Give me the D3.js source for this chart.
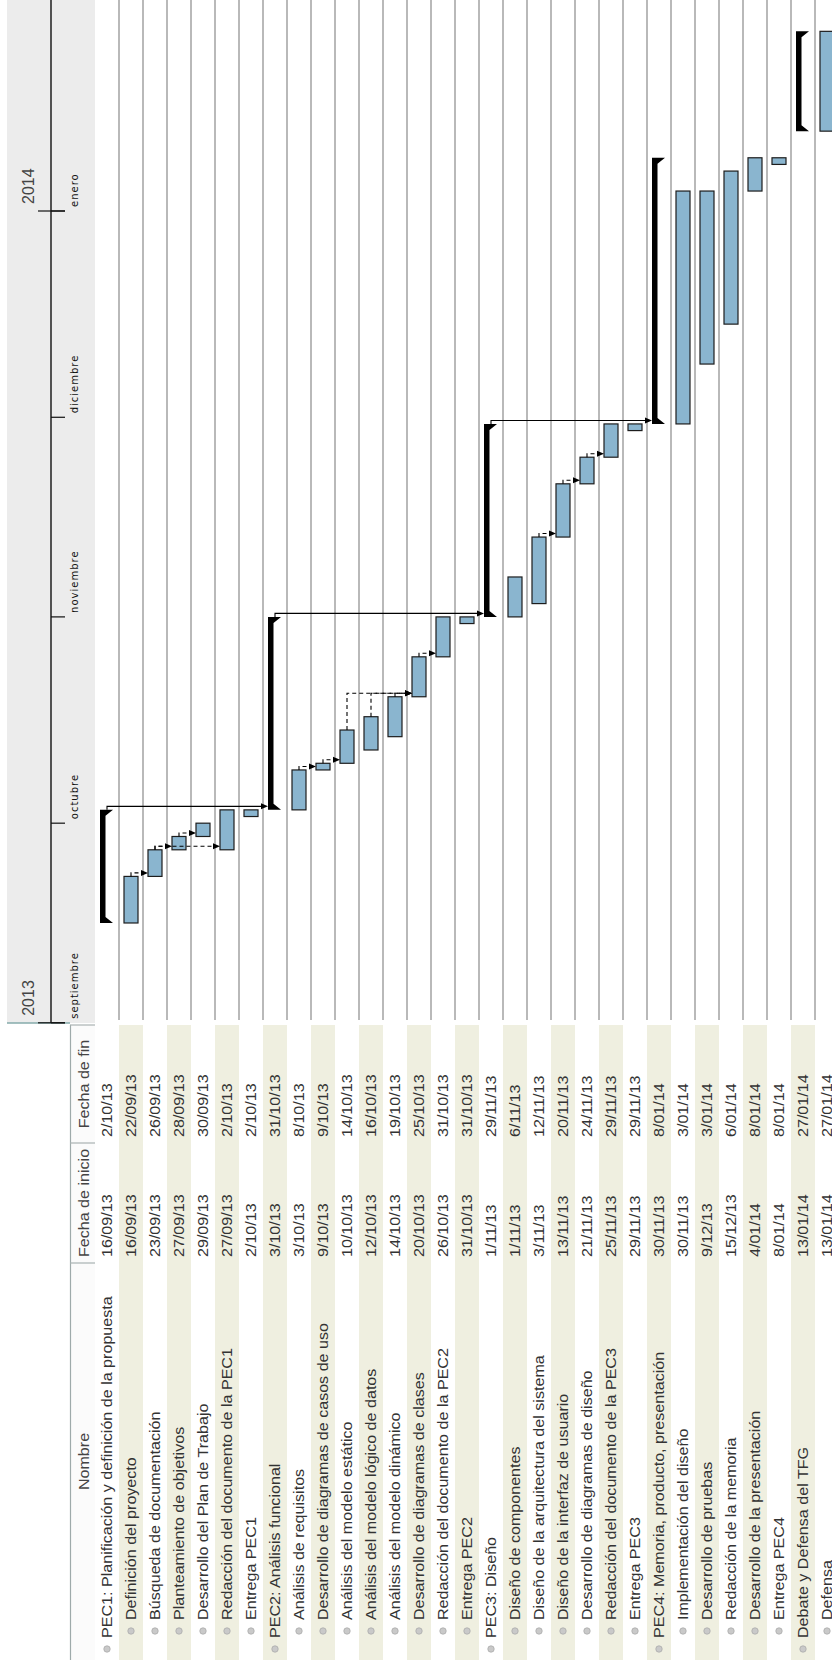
<!DOCTYPE html>
<html>
<head>
<meta charset="utf-8">
<script src="https://cdn.jsdelivr.net/npm/d3@7"></script>
<style>
  html, body { margin: 0; padding: 0; background: #ffffff; }
  svg { display: block; }
</style>
</head>
<body>
<svg id="gantt" width="832" height="1660"></svg>
<script>
// ---- Project plan data -------------------------------------------------
const taskNames = [
  "PEC1: Planificación y definición de la propuesta",
  "Definición del proyecto",
  "Búsqueda de documentación",
  "Planteamiento de objetivos",
  "Desarrollo del Plan de Trabajo",
  "Redacción del documento de la PEC1",
  "Entrega PEC1",
  "PEC2: Análisis funcional",
  "Análisis de requisitos",
  "Desarrollo de diagramas de casos de uso",
  "Análisis del modelo estático",
  "Análisis del modelo lógico de datos",
  "Análisis del modelo dinámico",
  "Desarrollo de diagramas de clases",
  "Redacción del documento de la PEC2",
  "Entrega PEC2",
  "PEC3: Diseño",
  "Diseño de componentes",
  "Diseño de la arquitectura del sistema",
  "Diseño de la interfaz de usuario",
  "Desarrollo de diagramas de diseño",
  "Redacción del documento de la PEC3",
  "Entrega PEC3",
  "PEC4: Memoria, producto, presentación",
  "Implementación del diseño",
  "Desarrollo de pruebas",
  "Redacción de la memoria",
  "Desarrollo de la presentación",
  "Entrega PEC4",
  "Debate y Defensa del TFG",
  "Defensa"
];
const taskLevels = [0,1,1,1,1,1,1, 0,1,1,1,1,1,1,1,1, 0,1,1,1,1,1,1, 0,1,1,1,1,1, 0,1];
const startLabels = [
  "16/09/13","16/09/13","23/09/13","27/09/13","29/09/13","27/09/13","2/10/13",
  "3/10/13","3/10/13","9/10/13","10/10/13","12/10/13","14/10/13","20/10/13","26/10/13","31/10/13",
  "1/11/13","1/11/13","3/11/13","13/11/13","21/11/13","25/11/13","29/11/13",
  "30/11/13","30/11/13","9/12/13","15/12/13","4/01/14","8/01/14",
  "13/01/14","13/01/14"
];
const endLabels = [
  "2/10/13","22/09/13","26/09/13","28/09/13","30/09/13","2/10/13","2/10/13",
  "31/10/13","8/10/13","9/10/13","14/10/13","16/10/13","19/10/13","25/10/13","31/10/13","31/10/13",
  "29/11/13","6/11/13","12/11/13","20/11/13","24/11/13","29/11/13","29/11/13",
  "8/01/14","3/01/14","3/01/14","6/01/14","8/01/14","8/01/14",
  "27/01/14","27/01/14"
];
// Summary rows drawn as black brackets
const summaryRows = [0, 7, 16, 23, 29];
// Dependencies: [predecessor row, successor row, dashed?]
const links = [
  [1, 2, 1], [2, 3, 1], [2, 5, 1], [3, 4, 1], [0, 7, 0],
  [8, 9, 1], [9, 10, 1], [10, 13, 1], [11, 13, 1], [12, 13, 1], [13, 14, 1],
  [7, 16, 0], [18, 19, 1], [19, 20, 1], [20, 21, 1], [16, 23, 0]
];
const monthLabels = ["septiembre", "octubre", "noviembre", "diciembre", "enero"];
const yearLabels = ["2013", "2014"];
const columnTitles = ["Nombre", "Fecha de inicio", "Fecha de fin"];

// ---- Layout (drawn in a landscape frame, then turned a quarter) --------
const W = 1660, H = 832;
const rowTop0 = 95, rowH = 24;
const tableEnd = 637;
const colEdges = [0, 397, 517, 635];
const textFont = "'Liberation Sans', Arial, sans-serif";
const textScale = 1.15;

const parseDay = s => {
  const [d, m, y] = s.split("/").map(Number);
  return new Date(Date.UTC(2000 + y, m - 1, d));
};
const nextDay = d => new Date(d.getTime() + 86400000);

const x = d3.scaleUtc()
  .domain([new Date(Date.UTC(2013, 8, 1)), new Date(Date.UTC(2014, 0, 1))])
  .range([637.2, 1449]);

const rowY = i => rowTop0 + i * rowH;

const svg = d3.select("#gantt");
const g = svg.append("g").attr("transform", `translate(0,${W}) rotate(-90)`);

// ---- Table ------------------------------------------------------------
g.selectAll("rect.stripe")
  .data(d3.range(taskNames.length).filter(i => i % 2 === 1))
  .join("rect")
  .attr("class", "stripe")
  .attr("x", 0).attr("width", colEdges[3])
  .attr("y", i => rowY(i)).attr("height", rowH)
  .attr("fill", "#efefe0");

// header cells
const head = g.append("g");
head.append("rect")
  .attr("x", 0).attr("y", 70).attr("width", colEdges[3]).attr("height", 25)
  .attr("fill", "#fbfbfb");
head.append("line")
  .attr("x1", 0).attr("x2", colEdges[3]).attr("y1", 70.5).attr("y2", 70.5)
  .attr("stroke", "#9eaaaa").attr("stroke-width", 1.2);
head.selectAll("line.sep")
  .data(colEdges.slice(1))
  .join("line")
  .attr("class", "sep")
  .attr("x1", d => d).attr("x2", d => d)
  .attr("y1", 70).attr("y2", 95)
  .attr("stroke", "#a9b3b3").attr("stroke-width", 1.2);
head.selectAll("text")
  .data(columnTitles)
  .join("text")
  .attr("transform", (d, i) => `translate(${(colEdges[i] + colEdges[i + 1]) / 2},89) scale(${textScale},1)`)
  .attr("text-anchor", "middle")
  .attr("font-family", textFont).attr("font-size", 14)
  .attr("fill", "#444")
  .text(d => d);

// bullets
g.selectAll("circle.bullet")
  .data(taskNames)
  .join("circle")
  .attr("class", "bullet")
  .attr("cx", (d, i) => taskLevels[i] === 0 ? 11 : 29)
  .attr("cy", (d, i) => rowY(i) + rowH / 2)
  .attr("r", 3.2)
  .attr("fill", "#c9c9c9").attr("stroke", "#ababab").attr("stroke-width", 0.8);

const cellText = (cls, values, ux) =>
  g.selectAll("text." + cls)
    .data(values)
    .join("text")
    .attr("class", cls)
    .attr("transform", (d, i) => `translate(${ux(i)},${rowY(i) + 17}) scale(${textScale},1)`)
    .attr("font-family", textFont).attr("font-size", 14)
    .attr("fill", "#333")
    .text(d => d);

cellText("name", taskNames, i => taskLevels[i] === 0 ? 22 : 40);
cellText("start", startLabels, () => colEdges[1] + 6);
cellText("end", endLabels, () => colEdges[2] + 6);

// ---- Timeline header --------------------------------------------------
g.append("rect")
  .attr("x", tableEnd).attr("y", 7).attr("width", W - tableEnd).attr("height", 88)
  .attr("fill", "#ececec");
g.append("line")
  .attr("x1", tableEnd).attr("x2", tableEnd).attr("y1", 7).attr("y2", 70)
  .attr("stroke", "#86abab").attr("stroke-width", 1.5);
g.append("line")
  .attr("x1", tableEnd).attr("x2", W).attr("y1", 51).attr("y2", 51)
  .attr("stroke", "#111").attr("stroke-width", 1.4);

const monthStarts = d3.utcMonth.range(new Date(Date.UTC(2013, 8, 1)), new Date(Date.UTC(2014, 1, 1)));
const yearStarts = [new Date(Date.UTC(2013, 8, 1)), new Date(Date.UTC(2014, 0, 1))];

g.selectAll("line.mtick")
  .data(monthStarts)
  .join("line")
  .attr("class", "mtick")
  .attr("x1", d => x(d)).attr("x2", d => x(d))
  .attr("y1", 51).attr("y2", 65)
  .attr("stroke", "#111").attr("stroke-width", 1.2);
g.selectAll("text.month")
  .data(monthStarts)
  .join("text")
  .attr("class", "month")
  .attr("x", d => x(d) + 4).attr("y", 78)
  .attr("font-family", "'DejaVu Sans', sans-serif").attr("font-size", 10)
  .attr("letter-spacing", 1)
  .attr("fill", "#111")
  .text((d, i) => monthLabels[i]);

g.selectAll("line.ytick")
  .data(yearStarts)
  .join("line")
  .attr("class", "ytick")
  .attr("x1", d => x(d)).attr("x2", d => x(d))
  .attr("y1", 38).attr("y2", 65)
  .attr("stroke", "#111").attr("stroke-width", 1.2);
g.selectAll("text.year")
  .data(yearStarts)
  .join("text")
  .attr("class", "year")
  .attr("x", d => x(d) + 7).attr("y", 34)
  .attr("font-family", textFont).attr("font-size", 16)
  .attr("fill", "#444")
  .text((d, i) => yearLabels[i]);

// ---- Chart grid ---------------------------------------------------------
g.selectAll("line.grid")
  .data(d3.range(1, taskNames.length))
  .join("line")
  .attr("class", "grid")
  .attr("x1", tableEnd + 3).attr("x2", W)
  .attr("y1", i => rowY(i)).attr("y2", i => rowY(i))
  .attr("stroke", "#a8a8a8").attr("stroke-width", 1.6);

// ---- Bars -----------------------------------------------------------------
const tasks = taskNames.map((n, i) => ({
  i,
  start: parseDay(startLabels[i]),
  end: nextDay(parseDay(endLabels[i])),
  summary: summaryRows.includes(i)
}));

g.selectAll("rect.bar")
  .data(tasks.filter(t => !t.summary))
  .join("rect")
  .attr("class", "bar")
  .attr("x", t => x(t.start))
  .attr("width", t => x(t.end) - x(t.start))
  .attr("y", t => rowY(t.i) + 5)
  .attr("height", 14)
  .attr("fill", "#8ab5cf")
  .attr("stroke", "#1d1d1d").attr("stroke-width", 1.2);

const bracketPath = t => {
  const a = x(t.start), b = x(t.end), top = rowY(t.i) + 5;
  return `M${a},${top} L${b},${top} L${b},${top + 13} L${b - 6},${top + 5.5}` +
         ` L${a + 6},${top + 5.5} L${a},${top + 13} Z`;
};
g.selectAll("path.summary")
  .data(tasks.filter(t => t.summary))
  .join("path")
  .attr("class", "summary")
  .attr("d", bracketPath)
  .attr("fill", "#000");

// ---- Dependencies -------------------------------------------------------
const depG = g.append("g");
links.forEach(([p, s, dashed]) => {
  const pred = tasks[p], succ = tasks[s];
  const u0 = x(pred.end);
  const uc = Math.max(x(pred.end), x(succ.start)) + 3.5;
  const v0 = rowY(p) + rowH / 2;
  const vt = rowY(s) + 5;
  depG.append("path")
    .attr("d", `M${u0},${v0} H${uc} V${vt - 7}`)
    .attr("fill", "none")
    .attr("stroke", "#000").attr("stroke-width", 1.1)
    .attr("stroke-dasharray", dashed ? "4,3" : null);
  depG.append("path")
    .attr("d", `M${uc - 3},${vt - 7} L${uc + 3},${vt - 7} L${uc},${vt} Z`)
    .attr("fill", "#000");
});
</script>
</body>
</html>
